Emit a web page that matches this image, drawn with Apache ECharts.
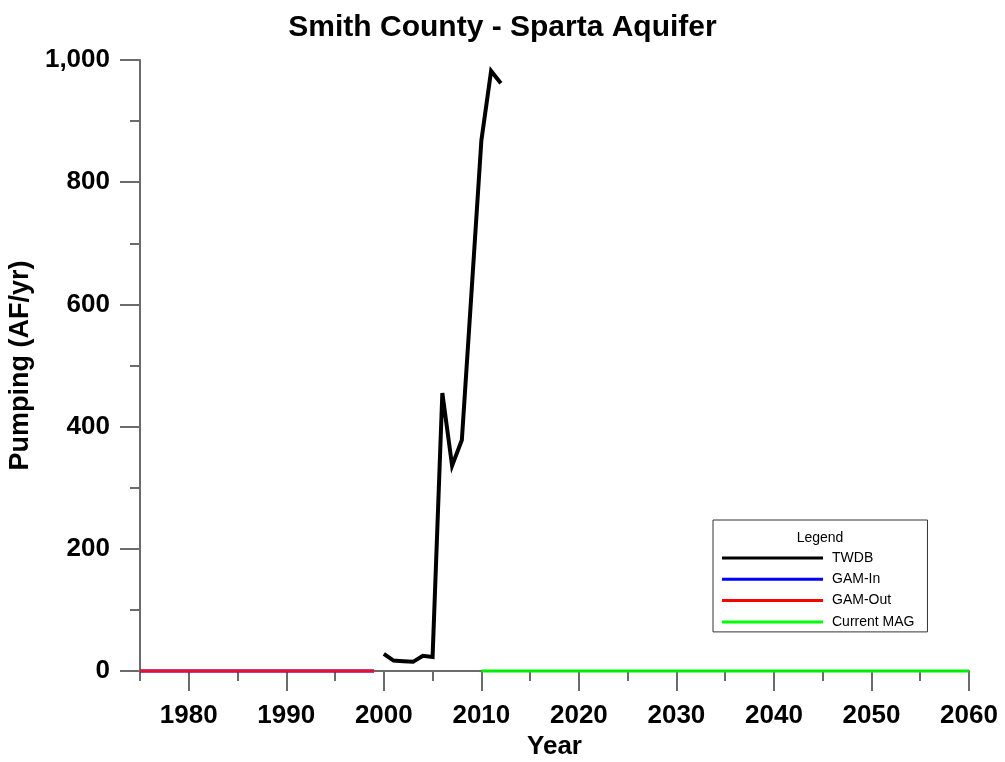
<!DOCTYPE html>
<html>
<head>
<meta charset="utf-8">
<script src="https://cdn.jsdelivr.net/npm/echarts@6/dist/echarts.min.js"></script>
<style>
html,body{margin:0;padding:0;background:#fff;}
#chart{width:1005px;height:762px;}
</style>
</head>
<body>
<div id="chart"></div>
<script>
// ---- data ----
var twdbYears  = [2000, 2001, 2002, 2003, 2004, 2005, 2006, 2007, 2008, 2009, 2010, 2011, 2012];
var twdbValues = [28, 17, 16, 15, 25, 23, 455, 336, 378, 622, 868, 982, 962];

var gamYears   = [1975, 1976, 1977, 1978, 1979, 1980, 1981, 1982, 1983, 1984, 1985, 1986, 1987,
                  1988, 1989, 1990, 1991, 1992, 1993, 1994, 1995, 1996, 1997, 1998, 1999];
var gamInValues  = [0, 0, 0, 0, 0, 0, 0, 0, 0, 0, 0, 0, 0, 0, 0, 0, 0, 0, 0, 0, 0, 0, 0, 0, 0];
var gamOutValues = [0, 0, 0, 0, 0, 0, 0, 0, 0, 0, 0, 0, 0, 0, 0, 0, 0, 0, 0, 0, 0, 0, 0, 0, 0];

var magYears  = [2010, 2020, 2030, 2040, 2050, 2060];
var magValues = [0, 0, 0, 0, 0, 0];

var seriesNames = ['TWDB', 'GAM-In', 'GAM-Out', 'Current MAG'];
var yTickValues = [0, 200, 400, 600, 800, 1000];
var xMin = 1975, xMax = 2060;

function pairs(xs, ys) { return xs.map(function (x, i) { return [x, ys[i]]; }); }
function withCommas(v) { return String(v).replace(/\B(?=(\d{3})+(?!\d))/g, ','); }

// category years used only to place the longer (decade) tick marks
var tickYears = [];
for (var y = xMin; y <= xMax; y++) tickYears.push(String(y));

var FONT = '"Liberation Sans", Arial, sans-serif';
var AXIS_COLOR = '#6b6b6b';

var chart = echarts.init(document.getElementById('chart'), null, {renderer: 'canvas'});
chart.setOption({
  animation: false,
  backgroundColor: '#ffffff',
  textStyle: {fontFamily: FONT},
  title: {
    text: 'Smith County - Sparta Aquifer',
    left: 'center',
    top: 8,
    textStyle: {fontFamily: FONT, fontSize: 30, fontWeight: 'bold', color: '#000'}
  },
  grid: {left: 140, right: 36, top: 60, bottom: 91, containLabel: false, outerBoundsMode: 'none'},
  xAxis: [{
    type: 'value',
    position: 'bottom',
    min: xMin, max: xMax, interval: 5,
    name: 'Year',
    nameLocation: 'middle',
    nameGap: 62,
    nameTextStyle: {fontFamily: FONT, fontSize: 26, fontWeight: 'bold', color: '#000'},
    axisLine: {show: true, lineStyle: {color: AXIS_COLOR, width: 2}},
    axisTick: {show: true, length: 10, lineStyle: {color: AXIS_COLOR, width: 2}},
    axisLabel: {
      margin: 32,
      fontFamily: FONT, fontSize: 26, fontWeight: 'bold', color: '#000',
      formatter: function (v) { return v % 10 === 0 ? String(v) : ''; }
    },
    splitLine: {show: false}
  }, {
    type: 'category',
    position: 'bottom',
    data: tickYears,
    boundaryGap: false,
    axisLine: {show: false},
    axisTick: {
      show: true, length: 20,
      interval: function (idx, val) { return Number(val) % 10 === 0; },
      lineStyle: {color: AXIS_COLOR, width: 2}
    },
    axisLabel: {show: false},
    splitLine: {show: false}
  }],
  yAxis: {
    type: 'value',
    min: yTickValues[0], max: yTickValues[yTickValues.length - 1], interval: 200,
    name: 'Pumping (AF/yr)',
    nameLocation: 'middle',
    nameGap: 87,
    nameTextStyle: {fontFamily: FONT, fontSize: 27, fontWeight: 'bold', color: '#000'},
    axisLine: {show: true, lineStyle: {color: AXIS_COLOR, width: 2}},
    axisTick: {show: true, length: 20, lineStyle: {color: AXIS_COLOR, width: 2}},
    minorTick: {show: true, splitNumber: 2, length: 10, lineStyle: {color: AXIS_COLOR, width: 2}},
    axisLabel: {
      margin: 30,
      fontFamily: FONT, fontSize: 26, fontWeight: 'bold', color: '#000',
      formatter: function (v) { return withCommas(v); }
    },
    splitLine: {show: false},
    minorSplitLine: {show: false}
  },
  legend: {
    orient: 'vertical',
    left: 713, top: 520,
    padding: [30, 13, 2, 9],
    itemGap: 5.3,
    itemWidth: 101,
    itemHeight: 3,
    icon: 'rect',
    borderColor: '#333',
    borderWidth: 1,
    backgroundColor: '#fff',
    textStyle: {fontFamily: FONT, fontSize: 14, color: '#000', lineHeight: 16, padding: [0, 0, 0, 4]},
    data: seriesNames
  },
  graphic: [{
    type: 'text',
    x: 820, y: 538,
    z: 100,
    style: {text: 'Legend', fontFamily: FONT, fontSize: 14, fill: '#000',
            textAlign: 'center', textVerticalAlign: 'middle'}
  }],
  series: [{
    name: seriesNames[1], type: 'line', xAxisIndex: 0,
    data: pairs(gamYears, gamInValues),
    color: '#0000ff', showSymbol: false, symbol: 'none', clip: false,
    lineStyle: {color: '#0000ff', width: 3}, z: 3
  }, {
    name: seriesNames[2], type: 'line', xAxisIndex: 0,
    data: pairs(gamYears, gamOutValues),
    color: '#ff0000', showSymbol: false, symbol: 'none', clip: false,
    lineStyle: {color: '#e8102e', width: 3}, z: 4
  }, {
    name: seriesNames[3], type: 'line', xAxisIndex: 0,
    data: pairs(magYears, magValues),
    color: '#00ff00', showSymbol: false, symbol: 'none', clip: false,
    lineStyle: {color: '#00ee00', width: 3}, z: 4
  }, {
    name: seriesNames[0], type: 'line', xAxisIndex: 0,
    data: pairs(twdbYears, twdbValues),
    color: '#000000', showSymbol: false, symbol: 'none', clip: false,
    lineStyle: {color: '#000000', width: 4, join: 'miter'}, z: 5
  }]
});
</script>
</body>
</html>
